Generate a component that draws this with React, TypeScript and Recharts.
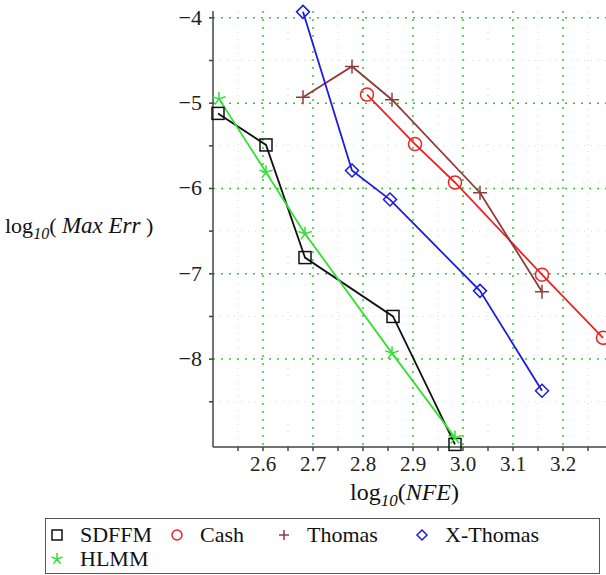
import React from 'react';
import { LineChart, Line, XAxis, YAxis, CartesianGrid } from 'recharts';

const sdffmX = [2.51, 2.606, 2.684, 2.86, 2.984];
const sdffmY = [-5.12, -5.49, -6.81, -7.5, -9.0];
const cashX = [2.808, 2.904, 2.984, 3.158, 3.28];
const cashY = [-4.9, -5.48, -5.93, -7.01, -7.75];
const thomasX = [2.68, 2.778, 2.858, 3.034, 3.158];
const thomasY = [-4.93, -4.57, -4.96, -6.05, -7.21];
const xThomasX = [2.68, 2.778, 2.854, 3.034, 3.158];
const xThomasY = [-3.93, -5.79, -6.13, -7.2, -8.37];
const hlmmX = [2.512, 2.606, 2.684, 2.858, 2.984];
const hlmmY = [-4.95, -5.81, -6.53, -7.93, -8.92];

const xTicks = [2.55, 2.6, 2.65, 2.7, 2.75, 2.8, 2.85, 2.9, 2.95, 3.0, 3.05, 3.1, 3.15, 3.2, 3.25];
const xMajor = [2.6, 2.7, 2.8, 2.9, 3.0, 3.1, 3.2];
const xMinor = [2.55, 2.65, 2.75, 2.85, 2.95, 3.05, 3.15, 3.25];
const yTicks = [-4, -4.5, -5, -5.5, -6, -6.5, -7, -7.5, -8, -8.5];
const yMajor = [-4, -5, -6, -7, -8];
const yMinor = [-4.5, -5.5, -6.5, -7.5, -8.5];

const toRows = (xs: number[], ys: number[]) => xs.map((x, i) => ({ x, y: ys[i] }));

const FONT = 'Liberation Serif, Times New Roman, Times, serif';
const BLACK = '#111111';
const RED = '#ee2222';
const BROWN = '#8e3c3c';
const BLUE = '#1c1ce0';
const GREEN = '#33e033';

type Shape = 'square' | 'circle' | 'plus' | 'diamond' | 'star';

const Marker = ({ shape, cx, cy, color, s }: { shape: Shape; cx: number; cy: number; color: string; s: number }) => {
  if (shape === 'square')
    return <rect x={cx - s} y={cy - s} width={s * 2} height={s * 2} fill="none" stroke={color} strokeWidth={1.5} />;
  if (shape === 'circle') return <circle cx={cx} cy={cy} r={s} fill="none" stroke={color} strokeWidth={1.5} />;
  if (shape === 'plus')
    return (
      <path d={`M${cx - s} ${cy}H${cx + s}M${cx} ${cy - s}V${cy + s}`} stroke={color} strokeWidth={1.5} />
    );
  if (shape === 'diamond')
    return (
      <path
        d={`M${cx} ${cy - s}L${cx + s} ${cy}L${cx} ${cy + s}L${cx - s} ${cy}Z`}
        fill="none"
        stroke={color}
        strokeWidth={1.5}
      />
    );
  // star: five arms from the centre
  let d = '';
  for (let k = 0; k < 5; k++) {
    const a = -Math.PI / 2 + (k * 2 * Math.PI) / 5;
    d += `M${cx} ${cy}L${cx + s * Math.cos(a)} ${cy + s * Math.sin(a)}`;
  }
  return <path d={d} stroke={color} strokeWidth={1.5} fill="none" />;
};

const dotFor = (shape: Shape, color: string, s: number) => (props: any) => (
  <Marker key={`${shape}-${props.index}`} shape={shape} cx={props.cx} cy={props.cy} color={color} s={s} />
);

const series = [
  { name: 'SDFFM', rows: toRows(sdffmX, sdffmY), color: BLACK, shape: 'square' as Shape, s: 6 },
  { name: 'Cash', rows: toRows(cashX, cashY), color: RED, shape: 'circle' as Shape, s: 6.5 },
  { name: 'Thomas', rows: toRows(thomasX, thomasY), color: BROWN, shape: 'plus' as Shape, s: 7 },
  { name: 'X-Thomas', rows: toRows(xThomasX, xThomasY), color: BLUE, shape: 'diamond' as Shape, s: 6.5 },
  { name: 'HLMM', rows: toRows(hlmmX, hlmmY), color: GREEN, shape: 'star' as Shape, s: 7 },
];

const XTick = ({ x, y, payload }: any) => {
  const v = payload.value;
  if (!xMajor.some(m => Math.abs(m - v) < 1e-6)) return null;
  return (
    <text x={x} y={y + 18} textAnchor="middle" fontFamily={FONT} fontSize={21} fill="#222">
      {v.toFixed(1)}
    </text>
  );
};

const YTick = ({ x, y, payload }: any) => {
  const v = payload.value;
  if (!Number.isInteger(v)) return null;
  return (
    <text x={x - 5} y={y + 7} textAnchor="end" fontFamily={FONT} fontSize={22} fill="#222">
      {'\u2212' + Math.abs(v)}
    </text>
  );
};

const LegendBox = () => {
  const row1 = series.slice(0, 4);
  const pos = [58, 178, 285, 423];
  return (
    <div
      style={{
        position: 'absolute',
        left: 45,
        top: 518,
        width: 553,
        height: 54,
        border: '1.5px solid #555',
        fontFamily: FONT,
        fontSize: 22,
        lineHeight: '24px',
        color: '#111',
      }}
    >
      {row1.map((s, i) => (
        <div key={s.name} style={{ position: 'absolute', left: pos[i] - 55, top: 4, display: 'flex', alignItems: 'center' }}>
          <svg width={16} height={16}>
            <Marker shape={s.shape} cx={8} cy={8} color={s.color} s={5} />
          </svg>
          <span style={{ marginLeft: 15 }}>{s.name}</span>
        </div>
      ))}
      <div style={{ position: 'absolute', left: 3, top: 28, display: 'flex', alignItems: 'center' }}>
        <svg width={16} height={16}>
          <Marker shape="star" cx={8} cy={8} color={GREEN} s={6} />
        </svg>
        <span style={{ marginLeft: 15 }}>HLMM</span>
      </div>
    </div>
  );
};

export default function App() {
  return (
    <div style={{ position: 'absolute', left: 0, top: 0, width: 606, height: 575, background: 'white', fontFamily: FONT }}>
      <LineChart width={606} height={575} margin={{ top: 11, right: 0, bottom: 98, left: 153 }}>
        <CartesianGrid
          horizontalValues={yMinor}
          verticalValues={xMinor}
          stroke="#d8d8d8"
          strokeDasharray="1 6"
        />
        <CartesianGrid
          horizontalValues={yMajor}
          verticalValues={xMajor}
          stroke="#2fc82f"
          strokeWidth={1.5}
          strokeDasharray="2 6"
        />
        <XAxis
          type="number"
          dataKey="x"
          domain={[2.5, 3.286]}
          ticks={xTicks}
          interval={0}
          tick={<XTick />}
          tickSize={4}
          height={30}
          stroke="#444"
          strokeWidth={1.5}
        />
        <YAxis
          type="number"
          dataKey="y"
          domain={[-9.03, -3.92]}
          ticks={yTicks}
          interval={0}
          tick={<YTick />}
          tickSize={4}
          width={60}
          stroke="#444"
          strokeWidth={1.5}
        />
        {series.map(s => (
          <Line
            key={s.name}
            data={s.rows}
            dataKey="y"
            name={s.name}
            stroke={s.color}
            strokeWidth={1.8}
            dot={dotFor(s.shape, s.color, s.s)}
            activeDot={false}
            isAnimationActive={false}
          />
        ))}
        <text x={350} y={500} fontFamily={FONT} fontSize={24} fill="#111">
          log<tspan fontSize={17} fontStyle="italic" dy={6}>10</tspan>
          <tspan dy={-6}>(</tspan>
          <tspan fontStyle="italic">NFE</tspan>)
        </text>
        <text x={5} y={233} fontFamily={FONT} fontSize={22} fill="#111">
          log<tspan fontSize={16} fontStyle="italic" dy={6}>10</tspan>
          <tspan dy={-6}>( </tspan>
          <tspan fontStyle="italic" fontSize={23}>Max Err</tspan> )
        </text>
      </LineChart>
      <LegendBox />
    </div>
  );
}
